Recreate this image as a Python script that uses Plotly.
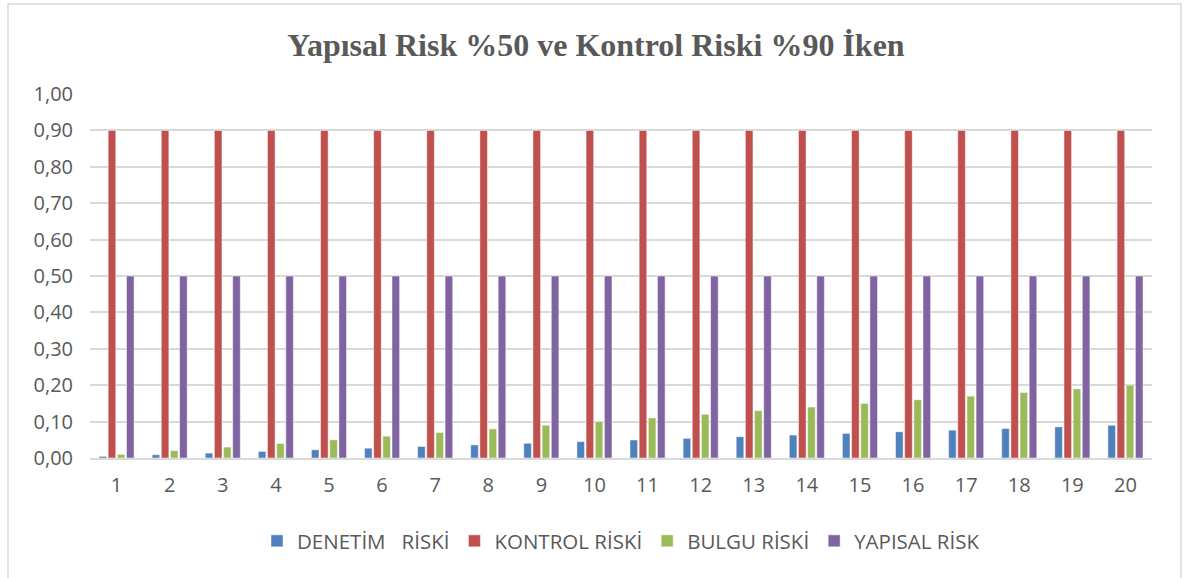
import plotly.graph_objects as go

categories = [str(i) for i in range(1, 21)]
denetim_riski = [0.0045, 0.009, 0.0135, 0.018, 0.0225, 0.027, 0.0315, 0.036, 0.0405, 0.045,
                 0.0495, 0.054, 0.0585, 0.063, 0.0675, 0.072, 0.0765, 0.081, 0.0855, 0.09]
kontrol_riski = [0.90] * 20
bulgu_riski = [0.01, 0.02, 0.03, 0.04, 0.05, 0.06, 0.07, 0.08, 0.09, 0.10,
               0.11, 0.12, 0.13, 0.14, 0.15, 0.16, 0.17, 0.18, 0.19, 0.20]
yapisal_risk = [0.50] * 20
y_ticks = [0, 0.1, 0.2, 0.3, 0.4, 0.5, 0.6, 0.7, 0.8, 0.9, 1.0]
y_tick_labels = ["0,00", "0,10", "0,20", "0,30", "0,40", "0,50", "0,60", "0,70", "0,80", "0,90", "1,00"]

series = [
    ("DENETİM   RİSKİ", denetim_riski, "#4F81BD"),
    ("KONTROL RİSKİ", kontrol_riski, "#C0504D"),
    ("BULGU RİSKİ", bulgu_riski, "#9BBB59"),
    ("YAPISAL RİSK", yapisal_risk, "#8064A2"),
]

fig = go.Figure()
for name, vals, color in series:
    fig.add_trace(go.Bar(
        x=categories, y=vals, name=name,
        marker=dict(color=color, line=dict(color="rgba(255,255,255,0.6)", width=0.8)),
    ))

fig.update_layout(
    width=1192, height=578,
    paper_bgcolor="white", plot_bgcolor="white",
    margin=dict(l=90, r=40, t=94, b=120),
    barmode="group", bargap=0.31, bargroupgap=0.17,
    title=dict(
        text="<b>Yapısal Risk %50 ve Kontrol Riski %90 İken</b>",
        x=0.5, xanchor="center", y=1 - 45 / 578, yanchor="middle",
        font=dict(family="Liberation Serif, Times New Roman, serif", size=32, color="#595959"),
    ),
    font=dict(family="Open Sans, sans-serif", color="#595959"),
    legend=dict(
        orientation="h", x=0.5, xanchor="center", y=(458 - 541) / 364, yanchor="middle",
        font=dict(size=20.5, color="#595959"), itemwidth=30,
        traceorder="normal",
    ),
    showlegend=True,
)
fig.update_yaxes(
    range=[0, 1.0], tickvals=y_ticks, ticktext=y_tick_labels,
    showgrid=True, gridcolor="#D9D9D9", gridwidth=1.5,
    zeroline=False, showline=False,
    tickfont=dict(size=20, color="#595959"), ticks="", ticklabelstandoff=16,
)
fig.update_xaxes(
    showline=True, linecolor="#D9D9D9", linewidth=1.5,
    tickfont=dict(size=20, color="#595959"), ticks="", ticklabelstandoff=8,
)
fig.add_shape(type="rect", xref="paper", yref="paper",
              x0=(8 - 90) / 1062, x1=(1181 - 90) / 1062,
              y0=(458 - 600) / 364, y1=(458 - 4) / 364,
              line=dict(color="#D9D9D9", width=1.5), layer="below")

fig.write_html("out.html", config={"displayModeBar": False},
               post_script="document.body.style.margin='0';")
